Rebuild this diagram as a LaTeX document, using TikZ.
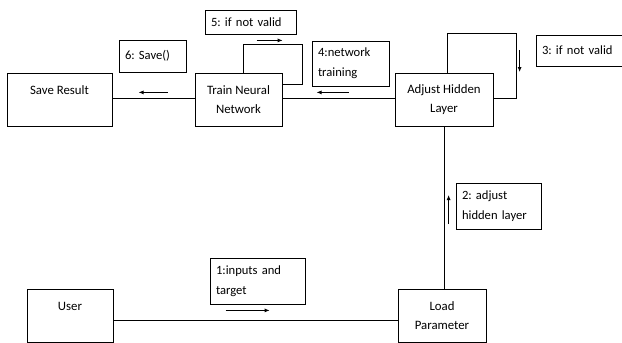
\documentclass[tikz,border=0pt]{standalone}
\usepackage{fontspec}
\setmainfont{Carlito}
\usepackage{tikz}
\usetikzlibrary{arrows.meta,positioning}
\frenchspacing

\begin{document}
\begin{tikzpicture}[x=1pt, y=1pt,
  box/.style={draw, line width=0.8pt, minimum width=#1, minimum height=53pt, align=center, inner sep=0pt, font=\fontsize{12.8}{19}\selectfont},
  lbl/.style={draw, line width=0.8pt, text width=#1, align=left, inner xsep=6pt, inner ysep=0pt, font=\fontsize{12.6}{20}\selectfont},
  msg/.style={-{Latex[length=5pt,width=4pt]}, line width=0.8pt},
  link/.style={line width=0.8pt}
]
\useasboundingbox (0,0) rectangle (622,-343);
\node[box=105pt] (save) at (59.5,-99.5) {Save Result\\\mbox{}};
\node[box=87pt] (train) at (238.5,-99.5) {Train Neural\\Network};
\node[box=98pt] (adjust) at (444,-99.5) {Adjust Hidden\\Layer};
\node[box=86pt] (user) at (70,-315.5) {User\\\mbox{}};
\node[box=88pt] (load) at (442,-315.5) {Load\\Parameter};
% message labels
\node[lbl=83pt, minimum height=46pt] (l1) at (257.5,-281) {1:inputs and\\target};
\node[lbl=73pt, minimum height=46pt] (l2) at (498.5,-206) {2: adjust\\hidden layer};
\node[lbl=74pt, minimum height=31pt] (l3) at (579,-50.5) {\mbox{3: if not valid}};
\node[lbl=65pt, minimum height=45pt] (l4) at (350.5,-63.5) {4:network\\training};
\node[lbl=79pt, minimum height=24pt] (l5) at (250.5,-22) {5: if not valid};
\node[lbl=55pt, minimum height=32pt] (l6) at (152.5,-56) {6: Save()};
% links
\draw[link] ([yshift=-4.5pt]user.east) -- ([yshift=-4.5pt]user.east -| load.west);
\draw[link] (adjust.south) -- (adjust.south |- load.north);
\draw[link] ([yshift=1.5pt]adjust.west) -- ([yshift=1.5pt]train.east);
\draw[link] ([yshift=1.5pt]train.west) -- ([yshift=1.5pt]save.east);
\draw[link] ([xshift=3pt]adjust.north) -- ++(0,39) -| ([shift={(23pt,1.5pt)}]adjust.east) -- ([yshift=1.5pt]adjust.east);
\draw[link] ([xshift=4.5pt]train.north) -- ++(0,28) -| ([shift={(20pt,15.5pt)}]train.east) -- ([yshift=15.5pt]train.east);
% message arrows
\draw[msg] ([shift={(16pt,-6pt)}]l1.south west) -- ([shift={(60pt,-6pt)}]l1.south west);
\draw[msg] ([shift={(-7pt,-18pt)}]l2.west) -- ([shift={(-7pt,11pt)}]l2.west);
\draw[msg] ([shift={(-16pt,0.5pt)}]l3.west) -- ([shift={(-16pt,-21.5pt)}]l3.west);
\draw[msg] ([shift={(37pt,-6pt)}]l4.south west) -- ([shift={(5pt,-6pt)}]l4.south west);
\draw[msg] ([shift={(52pt,-6pt)}]l5.south west) -- ([shift={(78pt,-6pt)}]l5.south west);
\draw[msg] ([shift={(49pt,-20pt)}]l6.south west) -- ([shift={(20pt,-20pt)}]l6.south west);
\end{tikzpicture}
\end{document}
